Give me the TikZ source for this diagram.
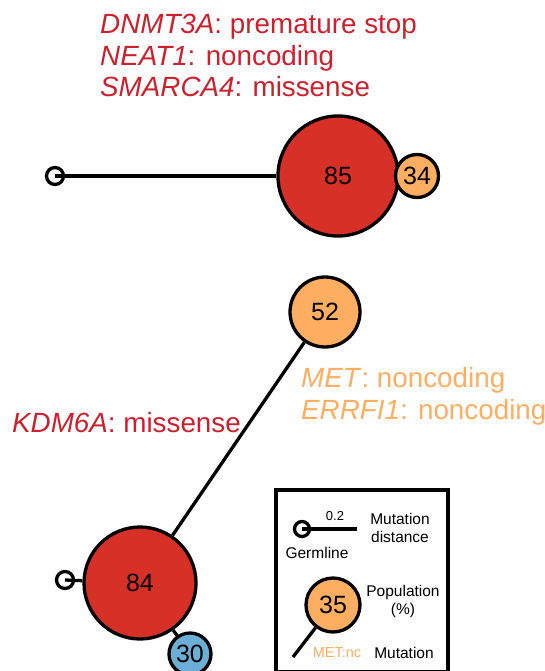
\documentclass[tikz,border=0pt]{standalone}
\usepackage{fontspec}
\setmainfont{Liberation Sans}
\definecolor{clred}{HTML}{D73027}
\definecolor{txred}{HTML}{CE1F2C}
\definecolor{clorange}{HTML}{FDAE61}
\definecolor{clblue}{HTML}{6BAED6}
\tikzset{
  clone/.style={circle, draw, line width=3.3pt, inner sep=0pt, font=\fontsize{25}{28}\selectfont},
  germ/.style={circle, draw, line width=3.3pt, minimum size=17pt, inner sep=0pt},
  branch/.style={line width=3.3pt},
  mut/.style={anchor=base west, inner sep=0pt, font=\fontsize{27.8}{30}\selectfont},
  leg/.style={font=\fontsize{15.5}{18}\selectfont, align=center}
}
\begin{document}
\begin{tikzpicture}[x=1pt, y=-1pt]
  \useasboundingbox (0,0) rectangle (545,671);

  % Upper tree
  \node[clone, fill=clred, minimum size=120pt] (c85) at (338,176) {85};
  \node[clone, fill=clorange, minimum size=43pt] (c34) at (417,176) {34};
  \coordinate (g1) at (55,176);
  \draw[branch] (g1) -- (c85);
  \node[germ] (g1c) at (g1) {};

  \node[mut, text=txred] (m1) at (100,34) {\textit{DNMT3A}: premature stop};
  \node[mut, text=txred] (m2) at (100,66) {\textit{NEAT1}: noncoding};
  \node[mut, text=txred] (m3) at (100,97) {\textit{SMARCA4}: missense};

  % Lower tree
  \node[clone, fill=clred, minimum size=112pt] (c84) at (140,583) {84};
  \node[clone, fill=clblue, minimum size=42pt] (c30) at (190,654) {30};
  \node[clone, fill=clorange, minimum size=70pt] (c52) at (325,312) {52};
  \coordinate (g2) at (65,580);
  \draw[branch] (g2) -- (c84);
  \node[germ] (g2c) at (g2) {};
  \draw[branch] (c84) -- (c52);
  \draw[branch] (c84) -- (c30);

  \node[mut, text=clorange] (m4) at (301,387) {\textit{MET}: noncoding};
  \node[mut, text=clorange] (m5) at (301,419) {\textit{ERRFI1}: noncoding};
  \node[mut, text=txred] (m6) at (12,432) {\textit{KDM6A}: missense};

  % Legend
  \draw[line width=3.5pt] (276,490) rectangle (448,672);
  \coordinate (lg) at (302,529);
  \coordinate (le) at (357,529);
  \draw[branch] (lg) -- (le);
  \node[germ, minimum size=15pt] (lgc) at (lg) {};
  \node[font=\fontsize{13}{15}\selectfont] (ld) at (335,516) {0.2};
  \node[leg] (ldist) at (400,528) {Mutation\\distance};
  \node[leg] (lgerm) at (317,553) {Germline};
  \node[clone, fill=clorange, minimum size=54pt] (l35) at (333,605) {35};
  \coordinate (lm) at (293,657);
  \draw[branch] (l35) -- (lm);
  \node[leg] (lpop) at (403,601) {Population\\(\%)};
  \node[font=\fontsize{14.5}{16}\selectfont, text=clorange] (lmet) at (337,653) {MET:nc};
  \node[leg] (lmut) at (404,653) {Mutation};
\end{tikzpicture}
\end{document}
